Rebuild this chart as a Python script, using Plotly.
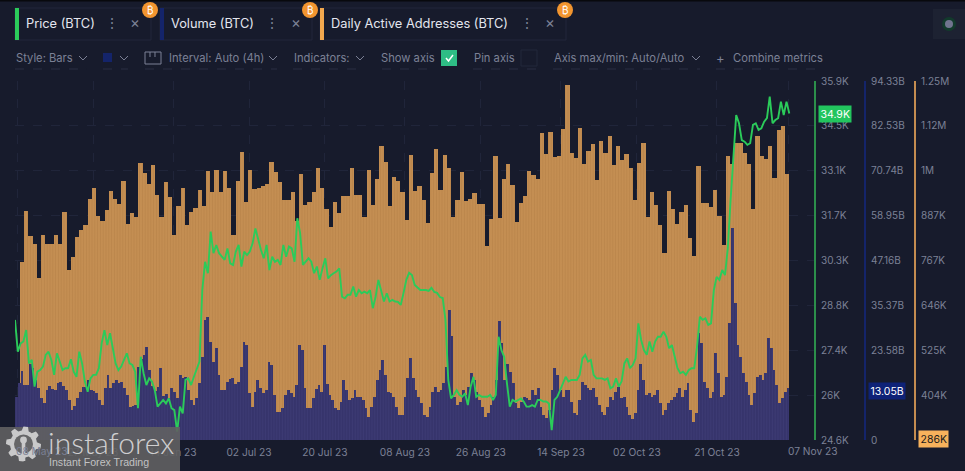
import numpy as np
import pandas as pd
import plotly.graph_objects as go

W, H = 965, 471

addresses_k = [762,899,832,810,720,835,812,812,836,812,896,741,776,829,850,862,933,961,886,873,903,955,933,920,981,865,895,884,1029,1002,973,1024,942,884,977,938,836,912,961,861,896,908,957,914,1007,951,1011,951,1008,962,836,981,1060,925,1009,959,961,968,973,1031,1005,979,930,930,952,872,1000,915,924,951,1015,961,904,856,925,895,941,941,1016,942,944,883,1011,915,987,1075,1033,914,991,980,
951,875,1050,953,966,929,868,1002,1066,956,1052,1015,885,929,1005,927,933,948,920,920,805,877,1049,880,986,1027,969,870,921,939,1008,998,986,1109,1054,1113,1045,1049,1122,1238,1057,1042,1123,1027,1062,1081,983,1089,1057,1103,1025,1076,1036,1054,1015,930,1029,1084,885,950,916,863,787,955,906,865,897,917,827,778,1022,921,921,910,957,887,807,1049,1027,1083,1083,1056,1026,905,1102,1049,1040,1075,990,1118,1130,999]

volume_b = [11.4,14.9,18.2,14.5,14.5,20.1,18.8,15.8,13.6,11.0,9.6,13.1,14.2,13.3,13.1,14.9,15.3,14.2,13.1,10.5,7.9,8.9,11.0,12.7,13.8,14.0,15.8,13.1,13.0,12.3,10.5,9.2,13.6,17.1,13.6,14.9,15.8,14.9,15.3,13.6,11.8,8.8,8.9,9.2,19.3,21.2,22.3,24.5,18.4,14.2,13.0,14.0,18.8,11.6,12.1,11.0,13.6,12.7,11.0,17.1,16.2,16.5,13.1,10.5,9.2,11.0,14.9,21.9,31.5,32.4,25.8,20.6,24.1,17.1,13.1,13.1,15.3,15.9,16.2,14.7,15.3,19.3,25.8,25.0,12.3,8.6,12.7,15.8,13.6,12.3,13.1,20.6,19.7,11.8,7.4,7.4,8.3,11.8,13.1,12.3,11.4,14.5,25.0,23.7,13.6,8.3,8.3,11.0,13.3,14.5,
12.7,25.0,14.7,11.8,10.5,8.3,7.9,10.0,15.8,13.1,10.5,11.0,13.1,11.4,11.4,10.5,8.3,6.1,8.8,11.4,15.8,18.4,20.9,17.1,12.7,12.3,11.4,8.8,6.6,6.6,11.4,16.2,21.5,16.2,13.1,11.4,9.6,6.6,6.1,8.8,12.7,13.8,12.7,13.1,14.9,19.3,34.2,27.2,11.4,9.2,10.0,13.1,11.8,14.0,17.7,15.8,12.7,10.5,8.8,6.1,7.0,9.2,11.4,15.8,31.2,25.4,15.8,20.1,18.0,14.9,9.6,8.3,10.0,11.4,11.0,10.5,13.1,11.8,13.6,8.8,6.6,5.7,7.9,13.1,18.8,17.1,13.1,11.4,13.1,13.1,10.0,7.0,6.6,10.5,15.3,14.5,13.6,13.1,13.6,11.4,9.2,7.4,6.6,8.8,11.4,10.5,12.7,13.8,11.0,11.4,8.8,6.6,5.4,7.0,13.1,20.1,15.8,11.8,12.3,11.4,11.8,13.1,9.6,6.6,7.9,9.6,10.5,11.4,12.3,13.6,11.4,13.1,14.9,7.9,4.8,7.0,28.0,25.4,15.3,13.6,11.0,12.7,22.8,17.5,
11.4,11.8,16.6,30.7,55.7,35.9,25.0,21.9,17.5,15.3,11.8,9.2,12.3,16.6,17.1,15.8,17.5,26.7,24.1,18.4,14.5,9.6,11.0,12.7,13.6]

price_k = [28.38,27.38,27.64,27.70,28.06,27.01,27.12,26.28,26.75,26.80,26.91,27.28,27.38,27.12,26.65,27.33,27.07,26.80,26.86,26.86,27.14,26.75,26.59,27.38,27.01,26.44,26.12,26.54,26.65,26.65,26.86,27.64,28.06,27.59,27.96,27.43,27.01,26.80,26.91,27.12,27.33,27.01,26.96,26.75,25.60,27.22,26.70,26.33,26.54,26.44,26.17,25.65,25.75,25.86,25.75,25.91,25.60,25.54,24.86,25.65,25.44,26.49,26.54,26.33,26.59,26.80,27.07,29.32,
30.21,29.85,31.16,30.48,30.74,30.48,30.37,30.27,30.63,30.16,30.11,30.53,30.74,30.06,30.53,30.42,30.53,30.79,31.26,30.90,30.58,30.32,30.74,29.95,30.37,30.21,30.27,30.11,30.74,30.37,30.69,30.63,30.21,31.58,31.11,30.11,30.21,30.32,30.21,29.85,30.06,29.64,30.00,30.32,29.69,29.79,29.85,29.90,30.00,29.11,29.06,29.17,29.17,29.43,29.11,29.32,29.22,29.27,29.22,29.32,28.75,29.11,29.64,29.27,28.96,29.22,28.96,29.01,28.96,
28.95,28.85,29.23,29.64,29.86,29.79,29.48,29.39,29.32,29.32,29.32,29.29,29.39,29.26,29.23,29.10,29.07,28.38,
26.49,25.91,26.02,26.17,26.02,25.96,26.07,25.70,26.28,26.59,25.96,26.02,25.96,25.96,25.96,26.02,25.86,26.02,
27.85,27.43,27.22,26.38,25.65,25.86,25.81,25.86,25.91,25.81,25.65,25.65,25.70,25.65,25.86,25.86,25.81,25.81,25.75,24.91,25.86,25.96,26.17,26.38,26.59,26.44,26.49,26.49,26.49,26.65,27.17,27.28,27.07,27.12,26.65,26.54,26.54,26.54,26.49,26.54,26.23,26.28,26.54,26.28,26.44,27.01,27.17,26.86,26.96,27.17,28.27,27.75,27.43,27.28,27.70,27.38,27.70,27.85,27.85,28.01,27.85,27.49,27.59,27.17,26.86,26.70,26.75,26.65,26.80,26.86,26.86,27.54,28.48,28.38,28.43,28.22,28.27,
29.32,29.73,29.64,29.95,29.79,30.64,32.16,33.5,34.83,34.57,34.04,33.99,33.89,33.94,34.52,34.57,34.36,34.41,34.62,34.73,35.41,34.57,34.67,34.73,35.25,34.83,35.25,34.88]

date_ticks = ["2023-05-08","2023-05-26","2023-06-14","2023-07-02","2023-07-20","2023-08-08","2023-08-26","2023-09-14","2023-10-02","2023-10-21","2023-11-07"]
date_labels = ["","27 May 23","14 Jun 23","02 Jul 23","20 Jul 23","08 Aug 23","26 Aug 23","14 Sep 23","02 Oct 23","21 Oct 23",""]
price_ticks = [24.6,26.01,27.43,28.84,30.25,31.66,33.08,34.49,35.9]
price_labels = ["24.6K","26K","27.4K","28.8K","30.3K","31.7K","33.1K","34.5K","35.9K"]
volume_ticks = [0,11.79,23.58,35.37,47.16,58.95,70.74,82.53,94.33]
volume_labels = ["0","11.79B","23.58B","35.37B","47.16B","58.95B","70.74B","82.53B","94.33B"]
addr_ticks = [404,525,646,767,888,1009,1130,1250]
addr_labels = ["404K","525K","646K","767K","887K","1M","1.12M","1.25M"]

BG = "#171b2c"
GREY = "#7c8196"
PX_PER_DAY = 4.216
x0 = pd.Timestamp("2023-07-02") - pd.Timedelta(days=(249 - 15) / PX_PER_DAY)
x1 = x0 + pd.Timedelta(days=800 / PX_PER_DAY)
STEP = (789.3 - 15) / PX_PER_DAY

addr_step = (789.3 - 20) / PX_PER_DAY / len(addresses_k)
addr_x = [x0 + pd.Timedelta(days=(20 - 15) / PX_PER_DAY + (i + 0.5) * addr_step) for i in range(len(addresses_k))]
vol_step = STEP / len(volume_b)
vol_x = [x0 + pd.Timedelta(days=(i + 0.5) * vol_step) for i in range(len(volume_b))]
price_step = STEP / (len(price_k) - 1)
price_x = [x0 + pd.Timedelta(days=i * price_step) for i in range(len(price_k))]

fx = lambda p: p / W
fy = lambda p: 1 - p / H

fig = go.Figure()
fig.add_bar(x=addr_x, y=addresses_k, yaxis="y", width=addr_step * 86400000,
            marker=dict(color="#c08a4e", line_width=0,
                        pattern=dict(shape="|", size=2.8, solidity=0.3, fgcolor="#b07a42", bgcolor="#c48e52")))
fig.add_bar(x=vol_x, y=volume_b, yaxis="y2", width=vol_step * 86400000,
            marker=dict(color="#38366f", line_width=0,
                        pattern=dict(shape="|", size=2.8, solidity=0.3, fgcolor="#45437e", bgcolor="#36346c")))
fig.add_scatter(x=price_x, y=price_k, yaxis="y3", mode="lines",
                line=dict(color="#2bcb5a", width=1.9))

axis_common = dict(anchor="free", side="right", ticks="outside", ticklen=3, tickcolor="rgba(0,0,0,0)",
                   tickfont=dict(family="Inter", size=10, color=GREY), showgrid=False, zeroline=False,
                   showline=True, linewidth=2, automargin=False)

fig.update_layout(
    width=W, height=H, margin=dict(l=0, r=0, t=0, b=0, pad=0), paper_bgcolor=BG, plot_bgcolor=BG,
    barmode="overlay", bargap=0, showlegend=False, font=dict(family="Inter"),
    xaxis=dict(domain=[fx(15), fx(815)], range=[x0, x1], type="date", tickmode="array", automargin=False,
               tickvals=date_ticks, ticktext=date_labels, tickfont=dict(family="Inter", size=10.2, color=GREY),
               ticks="outside", ticklen=3, tickcolor="rgba(0,0,0,0)", showgrid=True, gridcolor="#20253a",
               griddash="dash", gridwidth=1, zeroline=False, showline=False),
    yaxis=dict(domain=[fy(440), fy(81)], range=[283, 1250], position=fx(915), linecolor="#c48c50",
               tickmode="array", tickvals=addr_ticks, ticktext=addr_labels,
               **{**axis_common, "showgrid": True, "gridcolor": "#20253a", "griddash": "dash"}),
    yaxis2=dict(overlaying="y", range=[0, 94.33], position=fx(865), linecolor="#14246a",
                tickmode="array", tickvals=volume_ticks, ticktext=volume_labels, **axis_common),
    yaxis3=dict(overlaying="y", range=[24.6, 35.9], position=fx(815), linecolor="#2c8f4b",
                tickmode="array", tickvals=price_ticks, ticktext=price_labels, **axis_common),
)

shapes, notes = [], []

def rect(x, y, x2, y2, fill="rgba(0,0,0,0)", line=None, lw=1, layer="above", dash=None):
    shapes.append(dict(type="rect", xref="paper", yref="paper", x0=fx(x), x1=fx(x2), y0=fy(y), y1=fy(y2),
                       fillcolor=fill, line=dict(color=line or "rgba(0,0,0,0)", width=lw if line else 0, dash=dash),
                       layer=layer))

def circle(cx, cy, r, fill, line=None, lw=1):
    shapes.append(dict(type="circle", xref="paper", yref="paper", x0=fx(cx - r), x1=fx(cx + r), y0=fy(cy - r), y1=fy(cy + r),
                       fillcolor=fill, line=dict(color=line or "rgba(0,0,0,0)", width=lw if line else 0), layer="above"))

def poly(points, fill=None, line=None, lw=1, close=True):
    d = "M" + "L".join(f"{fx(a):.5f},{fy(b):.5f}" for a, b in points) + ("Z" if close else "")
    shapes.append(dict(type="path", xref="paper", yref="paper", path=d, fillcolor=fill or "rgba(0,0,0,0)",
                       line=dict(color=line or "rgba(0,0,0,0)", width=lw if line else 0), layer="above"))

def text(x, y, s, size=12, color=GREY, anchor="left", family="Inter", bg=None, pad=0, weight=None):
    f = dict(family=family, size=size, color=color)
    if weight:
        f["weight"] = weight
    notes.append(dict(xref="paper", yref="paper", x=fx(x), y=fy(y), text=s, showarrow=False, xanchor=anchor,
                      yanchor="middle", font=f, bgcolor=bg, borderpad=pad))

def chevron(x, y):
    poly([(x - 4, y - 2), (x, y + 2), (x + 4, y - 2)], line=GREY, lw=1, close=False)

# top strip and metric chips
rect(0, 0, W, 1.5, fill="#08090d")
for left, right, col, label, dots, cross, badge in [
    (15, 151, "#2bcb5a", "Price (BTC)", 112, 135, 150),
    (160, 312, "#14246a", "Volume (BTC)", 272, 296, 310),
    (320, 566, "#f2a84e", "Daily Active Addresses (BTC)", 527, 550, 565),
]:
    rect(left, 8, right, 40, line="#22273a")
    rect(left, 8, left + 4, 40, fill=col)
    text(left + 10, 23.5, label, size=12.8, color="#e4e6ef")
    text(dots, 23, "⋮", size=14, color=GREY, anchor="center")
    text(cross, 23, "×", size=15, color=GREY, anchor="center")
    circle(badge, 10, 8, "#f2952f")
    text(badge, 10, "₿", size=10, color="#ffffff", anchor="center")

# control row
text(15, 58, "Style: Bars", size=11.2)
chevron(83, 58)
rect(103, 53, 112, 62, fill="#14246a")
chevron(124, 58)
rect(145, 52, 161, 64, line=GREY)
poly([(150, 52), (150, 57)], line=GREY, close=False)
poly([(155, 52), (155, 57)], line=GREY, close=False)
text(168, 58, "Interval: Auto (4h)", size=11.2)
chevron(273, 58)
text(293, 58, "Indicators:", size=11.2)
chevron(360, 58)
text(380, 58, "Show axis", size=11.2)
rect(441, 50, 457, 66, fill="#2ebd85")
poly([(446, 58), (448.5, 61), (453, 55)], line="#ffffff", lw=1.5, close=False)
text(473, 58, "Pin axis", size=11.2)
rect(521, 50, 537, 66, line="#23283b")
text(553, 58, "Axis max/min: Auto/Auto", size=11.2)
chevron(696, 58)
text(720, 58, "+", size=13, anchor="center")
text(732, 58, "Combine metrics", size=11.2)
for a, b in [(15, 87), (103, 128), (145, 277), (293, 364), (382, 435), (473, 537), (553, 700), (716, 821)]:
    poly([(a, 69), (b, 69)], line="#2a2f42", lw=1, close=False)
    shapes[-1]["line"]["dash"] = "dash"

# status widget
rect(933, 9, 965, 39, fill="#1d2232")
circle(949, 24, 7, "#123a2c")
circle(949, 24, 4, "#70748f")

# value badges
text(818, 114, "34.9K", size=10.5, color="#ffffff", bg="#22c55e", pad=1.5)
text(868, 391, "13.05B", size=10.5, color="#ffffff", bg="#0e2277", pad=1.5)
text(918, 439, "286K", size=10.5, color="#1b1b1b", bg="#f7b25c", pad=1.5)
text(15, 451, "08 May 23", size=10.2)
text(787, 451, "07 Nov 23", size=10.2)

# watermark
rect(0, 427, 180, 471, fill="rgba(96,96,98,0.9)")
gx, gy = 23.5, 444
ang = np.linspace(0, 2 * np.pi, 49)[:-1]
radii = np.where((np.arange(48) // 3) % 2 == 0, 17.5, 13.5)
poly(list(zip(gx + radii * np.cos(ang), gy + radii * np.sin(ang))), fill="#c9c9ca")
circle(gx, gy, 9.5, "#666668")
circle(gx, gy - 4, 3.4, "#c9c9ca")
rect(gx - 1.8, gy - 2, gx + 1.8, gy + 17, fill="#c9c9ca")
text(47, 442, "instaforex", size=30, color="#cfcfd0", family="Lato", weight=300)
text(48, 462, "Instant Forex Trading", size=10.6, color="#c2c2c3", family="Liberation Sans")

fig.update_layout(shapes=shapes, annotations=notes)
fig.write_html("out.html", config=dict(displayModeBar=False),
               post_script="document.body.style.margin='0';document.body.style.background='" + BG + "';")
